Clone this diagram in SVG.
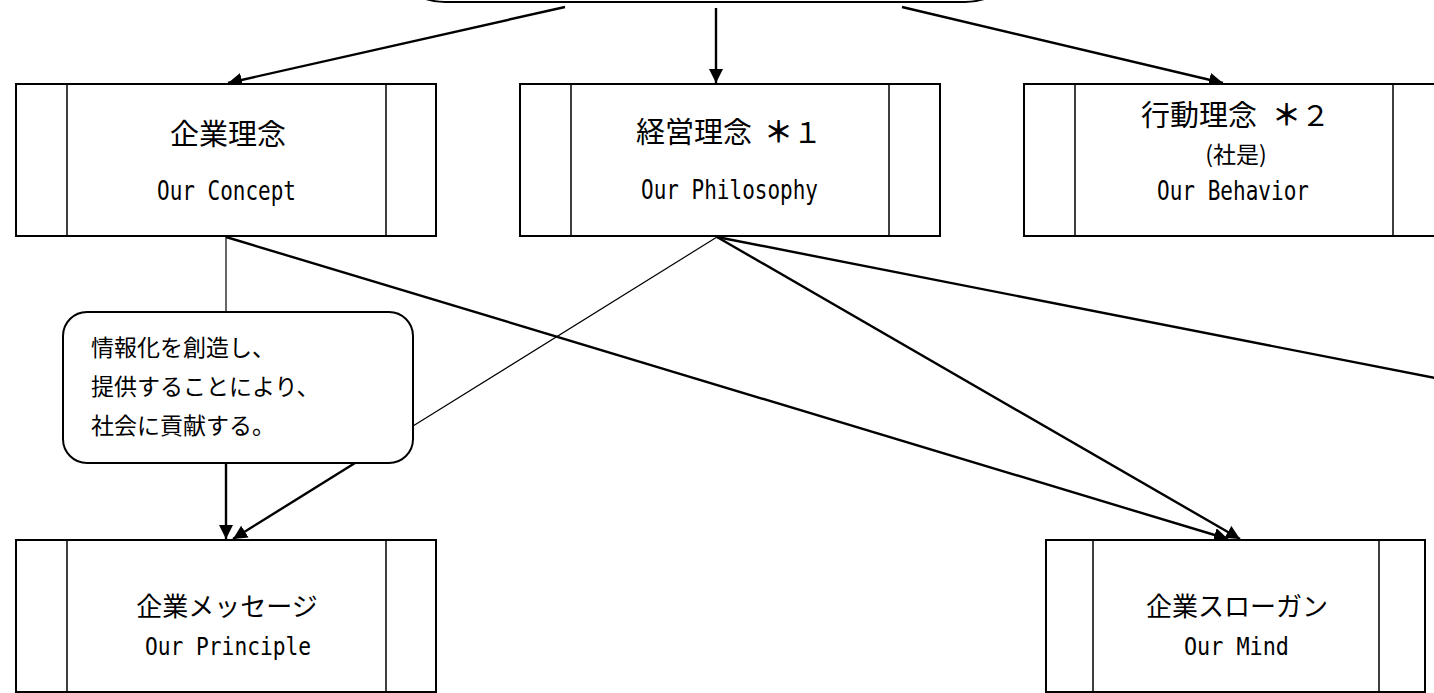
<svg xmlns="http://www.w3.org/2000/svg" width="1434" height="693" viewBox="0 0 1434 693">
<defs>
<marker id="ah" markerUnits="userSpaceOnUse" markerWidth="14" markerHeight="14" refX="14" refY="7" orient="auto" viewBox="0 0 14 14"><path d="M0,0 L14,7 L0,14 z" fill="#000"/></marker>
</defs>
<style>
.box{fill:#fff;stroke:#000;stroke-width:2}
.div{stroke:#000;stroke-width:1.5}
.c{fill:none;stroke:#000;stroke-width:2.4}
.thin{fill:none;stroke:#000;stroke-width:1.2}
.jp{font-family:"Noto Sans CJK JP",sans-serif;fill:#000}
.en{font-family:"DejaVu Sans Mono",monospace;fill:#000}
.star{font-weight:700}
</style>
<rect x="0" y="0" width="1434" height="693" fill="#fff"/>
<g id="connectors">
<line class="c" x1="565" y1="7" x2="228" y2="83" marker-end="url(#ah)"/>
<line class="c" x1="716" y1="8" x2="716" y2="83" marker-end="url(#ah)"/>
<line class="c" x1="902" y1="7" x2="1223" y2="83" marker-end="url(#ah)"/>
<line class="thin" x1="226" y1="237" x2="226" y2="312"/>
<line class="c" x1="226" y1="463" x2="226" y2="539" marker-end="url(#ah)"/>
<line class="thin" x1="717" y1="237" x2="413" y2="426"/>
<line class="c" x1="355" y1="463" x2="233" y2="539" marker-end="url(#ah)"/>
<line class="c" x1="226" y1="237" x2="1228" y2="539" marker-end="url(#ah)"/>
<line class="c" x1="717" y1="237" x2="1240" y2="539" marker-end="url(#ah)"/>
<line class="c" x1="717" y1="237" x2="1440" y2="379"/>
</g>
<g id="top-node">
<rect class="box" x="385" y="-120" width="640" height="122" rx="60"/>
</g>
<g id="concept">
<rect class="box" x="16" y="84" width="420" height="152"/>
<line class="div" x1="67" y1="84" x2="67" y2="236"/>
<line class="div" x1="386" y1="84" x2="386" y2="236"/>
<text class="jp" x="228" y="145" font-size="29" text-anchor="middle">企業理念</text>
<text class="en" x="157" y="200" font-size="27" textLength="139" lengthAdjust="spacingAndGlyphs">Our Concept</text>
</g>
<g id="philosophy">
<rect class="box" x="520" y="84" width="420" height="152"/>
<line class="div" x1="571" y1="84" x2="571" y2="236"/>
<line class="div" x1="889" y1="84" x2="889" y2="236"/>
<text class="jp" x="636" y="143" font-size="29">経営理念 <tspan x="764" class="star">＊</tspan>１</text>
<text class="en" x="641" y="199" font-size="27" textLength="177" lengthAdjust="spacingAndGlyphs">Our Philosophy</text>
</g>
<g id="behavior">
<rect class="box" x="1024" y="84" width="420" height="152"/>
<line class="div" x1="1075" y1="84" x2="1075" y2="236"/>
<line class="div" x1="1393" y1="84" x2="1393" y2="236"/>
<text class="jp" x="1141" y="126" font-size="29">行動理念 <tspan x="1272" class="star">＊</tspan>２</text>
<text class="jp" x="1236" y="163" font-size="23" text-anchor="middle">(社是)</text>
<text class="en" x="1157" y="200" font-size="27" textLength="152" lengthAdjust="spacingAndGlyphs">Our Behavior</text>
</g>
<g id="callout">
<rect class="box" x="63" y="312" width="350" height="151" rx="24"/>
<text class="jp" x="91" y="356" font-size="23">情報化を創造し、</text>
<text class="jp" x="91" y="395" font-size="23">提供することにより、</text>
<text class="jp" x="91" y="434" font-size="23">社会に貢献する。</text>
</g>
<g id="principle">
<rect class="box" x="16" y="540" width="420" height="152"/>
<line class="div" x1="67" y1="540" x2="67" y2="692"/>
<line class="div" x1="386" y1="540" x2="386" y2="692"/>
<text class="jp" x="227" y="616" font-size="26" text-anchor="middle">企業メッセージ</text>
<text class="en" x="145" y="655" font-size="25" textLength="166" lengthAdjust="spacingAndGlyphs">Our Principle</text>
</g>
<g id="mind">
<rect class="box" x="1046" y="540" width="379" height="152"/>
<line class="div" x1="1093" y1="540" x2="1093" y2="692"/>
<line class="div" x1="1379" y1="540" x2="1379" y2="692"/>
<text class="jp" x="1237" y="616" font-size="26" text-anchor="middle">企業スローガン</text>
<text class="en" x="1184" y="655" font-size="25" textLength="105" lengthAdjust="spacingAndGlyphs">Our Mind</text>
</g>
</svg>
